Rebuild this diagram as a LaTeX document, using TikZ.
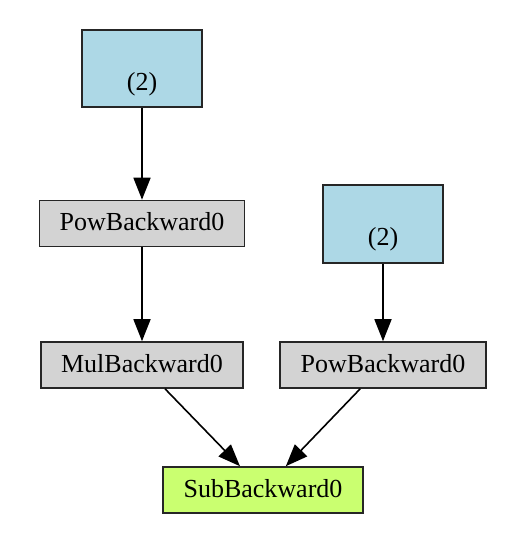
\documentclass[tikz,border=0pt]{standalone}
\usepackage{fontspec}
\setmainfont{Liberation Serif}
\usepackage{tikz}
\usetikzlibrary{arrows.meta}
\definecolor{paramblue}{HTML}{ADD8E6}
\definecolor{opgray}{HTML}{D3D3D3}
\definecolor{outgreen}{HTML}{CAFF70}

\tikzset{
  gbox/.style={draw=black!85,line width=1.6pt,rectangle,inner sep=0pt,minimum height=46,text height=19,text depth=5},
  param/.style={gbox,fill=paramblue,minimum width=120,minimum height=77,text height=50,text depth=7},
  gradop/.style={gbox,fill=opgray},
  outop/.style={gbox,fill=outgreen},
  edge/.style={->,line width=1.6pt,black}
}

\begin{document}
\begin{tikzpicture}[x=1pt,y=-1pt,>={Triangle[length=22pt,width=17pt]},font=\fontsize{26}{31}\selectfont]
    \useasboundingbox (0,0) rectangle (524,538);
    % leaf tensors
    \node[param] (pa) at (142,68.5) {(2)};
    \node[param,minimum height=78] (pb) at (383,224) {(2)};
    % backward ops
    \node[gradop,minimum width=205] (powa) at (142,223.5) {PowBackward0};
    \node[gradop,minimum width=202] (mul) at (142,365) {MulBackward0};
    \node[gradop,minimum width=206] (powb) at (383,365) {PowBackward0};
    \node[outop,minimum width=200] (sub) at (263,490) {SubBackward0};
    % edges
    \draw[edge] (pa) -- (powa);
    \draw[edge] (powa) -- (mul);
    \draw[edge] (pb) -- (powb);
    \draw[edge] (mul) -- (sub);
    \draw[edge] (powb) -- (sub);
\end{tikzpicture}
\end{document}
